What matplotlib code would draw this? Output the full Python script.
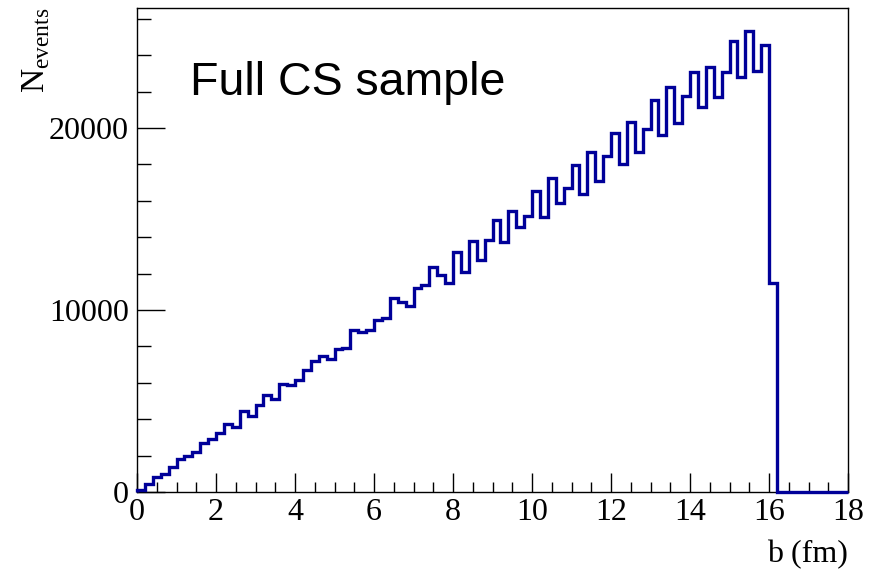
import matplotlib.pyplot as plt
import numpy as np

# --- Histogram data: impact parameter b, 0.2 fm bins from 0 to 18 fm ---
bin_edges = np.round(np.arange(0, 18.0001, 0.2), 1)
counts = [
    120, 420, 810, 990, 1380, 1800, 2000, 2220, 2680, 2920,
    3270, 3730, 3560, 4430, 4190, 4780, 5340, 5120, 5950, 5860,
    6170, 6690, 7180, 7460, 7310, 7860, 7920, 8930, 8780, 8890,
    9480, 9570, 10670, 10420, 10210, 11190, 11370, 12360, 11920, 11500,
    13210, 12110, 13790, 12730, 13830, 14950, 13740, 15450, 14560, 15150,
    16550, 15140, 17230, 15910, 16680, 17960, 16400, 18660, 17100, 18440,
    19710, 18020, 20320, 18660, 19950, 21530, 19620, 22280, 20260, 21750,
    23070, 21140, 23350, 21730, 23070, 24780, 22830, 25330, 23160, 24570,
    11500, 0, 0, 0, 0, 0, 0, 0, 0, 0,
]
x_ticks = [0, 2, 4, 6, 8, 10, 12, 14, 16, 18]
y_ticks = [0, 10000, 20000]

plt.rcParams["font.family"] = ["Liberation Serif", "DejaVu Serif"]
plt.rcParams["mathtext.fontset"] = "custom"
plt.rcParams["mathtext.rm"] = "Liberation Serif"

fig = plt.figure(figsize=(8.72, 5.71), dpi=100)
ax = fig.add_axes([137 / 872, 1 - 492 / 571, (848 - 137) / 872, (492 - 8) / 571])

ax.stairs(counts, bin_edges, color="#000099", linewidth=2.4, clip_on=False, zorder=3)

ax.set_xlim(0, 18)
ax.set_ylim(0, 26600)
ax.set_xticks(x_ticks)
ax.set_xticks(np.arange(0, 18.01, 0.5), minor=True)
ax.set_yticks(y_ticks)
ax.set_yticks(np.arange(0, 26001, 2000), minor=True)
ax.set_xticklabels([str(v) for v in x_ticks])
ax.set_yticklabels([str(v) for v in y_ticks])

ax.tick_params(axis="both", which="both", direction="in", labelsize=23, width=1, color="black")
ax.tick_params(axis="x", which="major", length=14, pad=4)
ax.tick_params(axis="x", which="minor", length=7)
ax.tick_params(axis="y", which="major", length=20, pad=6)
ax.tick_params(axis="y", which="minor", length=10)
for sp in ax.spines.values():
    sp.set_linewidth(1)

# axis titles (ROOT style)
fig.text(848 / 872, 1 - 555 / 571, "b (fm)", ha="right", va="center", fontsize=23)
fig.text(36 / 872, 1 - 8 / 571, r"$\mathrm{N}_{\mathrm{events}}$", rotation=90,
         ha="center", va="top", fontsize=24)

ax.text(190 / 872, 1 - 83 / 571, "Full CS sample", transform=fig.transFigure,
        ha="left", va="center", fontsize=33.5, family=["Liberation Sans", "DejaVu Sans"])

plt.savefig("out.png", dpi=100)
